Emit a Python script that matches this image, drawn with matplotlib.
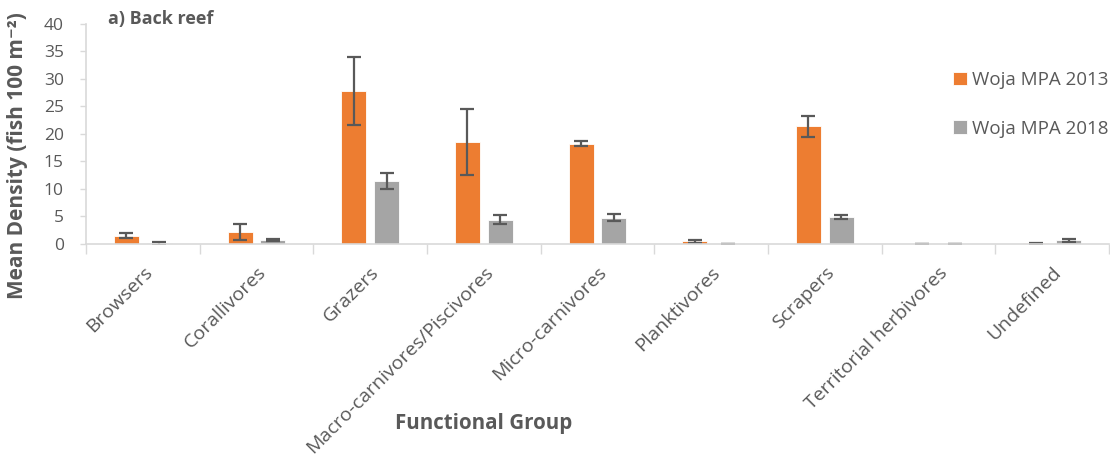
import numpy as np
import matplotlib
matplotlib.use("Agg")
import matplotlib.pyplot as plt

plt.rcParams['font.family'] = ['Open Sans', 'DejaVu Sans']

groups = ['Browsers', 'Corallivores', 'Grazers', 'Macro-carnivores/Piscivores',
          'Micro-carnivores', 'Planktivores', 'Scrapers', 'Territorial herbivores',
          'Undefined']
mean_2013 = [1.5, 2.2, 27.8, 18.5, 18.2, 0.5, 21.4, 0.05, 0.1]
err_2013 = [0.5, 1.4, 6.2, 6.0, 0.5, 0.3, 1.9, 0.0, 0.1]
mean_2018 = [0.15, 0.7, 11.4, 4.4, 4.8, 0.05, 4.9, 0.05, 0.65]
err_2018 = [0.3, 0.2, 1.5, 0.8, 0.6, 0.0, 0.35, 0.0, 0.3]

txt = '#595959'
fig = plt.figure(figsize=(11.1, 4.62), dpi=100)
ax = fig.add_axes([86/1110, 1-244/462, 1023/1110, 220.5/462])

x = np.arange(len(groups))
w = 0.22
off = 0.145
ekw = dict(ecolor='#595959', elinewidth=1.6, capsize=5, capthick=1.6)
ax.bar(x - off, mean_2013, w, yerr=err_2013, color='#ED7D31', edgecolor='white',
       linewidth=0.6, error_kw=ekw, label='Woja MPA 2013', zorder=2)
ax.bar(x + off, mean_2018, w, yerr=err_2018, color='#A5A5A5', edgecolor='white',
       linewidth=0.6, error_kw=ekw, label='Woja MPA 2018', zorder=2)

ax.set_xlim(-0.5, len(groups) - 0.5)
ax.set_ylim(0, 40)
ax.set_yticks(np.arange(0, 41, 5))
ax.tick_params(axis='y', colors='#D9D9D9', labelcolor=txt, labelsize=12.5,
               length=4, width=1, pad=12)

ax.set_xticks(np.arange(-0.5, len(groups), 1))
ax.set_xticklabels([])
ax.set_xticks(x, minor=True)
ax.set_xticklabels(groups, minor=True, rotation=45, ha='right', rotation_mode='anchor',
                   color=txt, fontsize=14)
ax.tick_params(axis='x', which='major', colors='#D9D9D9', length=7, width=1)
ax.tick_params(axis='x', which='minor', length=0, pad=14)

for s in ['top', 'right']:
    ax.spines[s].set_visible(False)
for s in ['left', 'bottom']:
    ax.spines[s].set_color('#D9D9D9')
    ax.spines[s].set_linewidth(1.2)

fig.text(18/1110, 1-156/462, 'Mean Density (fish 100 m⁻²)', rotation=90,
         ha='center', va='center', fontsize=15, fontweight='bold', color=txt)
fig.text(484/1110, 1-423/462, 'Functional Group', ha='center', va='center',
         fontsize=14.8, fontweight='bold', color=txt)
fig.text(108/1110, 1-19/462, 'a) Back reef', ha='left', va='center',
         fontsize=13, fontweight='bold', color=txt)

fig.legend(loc='upper left', bbox_to_anchor=(936/1110, 1-54/462), frameon=False,
           fontsize=13.5, labelcolor=txt, handlelength=0.74, handleheight=0.74,
           handletextpad=0.3, labelspacing=1.65)

fig.savefig('out.png', dpi=100)
